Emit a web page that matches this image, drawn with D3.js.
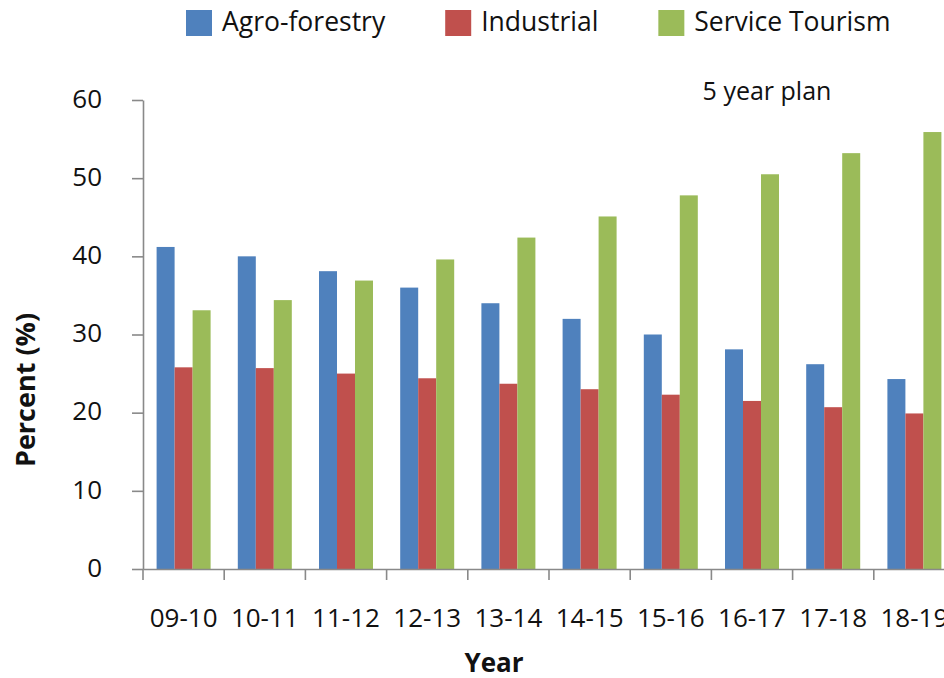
<!DOCTYPE html>
<html>
<head>
<meta charset="utf-8">
<script src="https://cdn.jsdelivr.net/npm/d3@7"></script>
<style>
	body { margin: 0; background: #fff; }
	svg { display: block; }
</style>
</head>
<body>
<div id="chart"></div>
<script>
const years = ['09-10', '10-11', '11-12', '12-13', '13-14', '14-15', '15-16', '16-17', '17-18', '18-19']
const seriesNames = ['Agro-forestry', 'Industrial', 'Service Tourism']
const agroForestry = [41.2, 40.0, 38.1, 36.0, 34.0, 32.0, 30.0, 28.1, 26.2, 24.3]
const industrial = [25.8, 25.7, 25.0, 24.4, 23.7, 23.0, 22.3, 21.5, 20.7, 19.9]
const serviceTourism = [33.1, 34.4, 36.9, 39.6, 42.4, 45.1, 47.8, 50.5, 53.2, 55.9]
const yTicks = [0, 10, 20, 30, 40, 50, 60]
const colors = ['#4f81bd', '#c0504d', '#9bbb59']

const width = 944
const height = 678
const font = '"Open Sans", "Noto Sans", sans-serif'

const values = [agroForestry, industrial, serviceTourism]
const rows = years.map((year, i) => ({
	year,
	bars: seriesNames.map((name, s) => ({ name, s, value: values[s][i] }))
}))

const svg = d3
	.select('#chart')
	.append('svg')
	.attr('width', width)
	.attr('height', height)

// the plot runs past the right edge, the last label is cut like in the original
const x = d3.scaleBand().domain(years).range([143, 955])
const xInner = d3.scaleBand().domain(seriesNames).range([13.6, 67.6])
const y = d3.scaleLinear().domain([0, 60]).range([569, 100])

// bars
svg
	.append('g')
	.selectAll('g')
	.data(rows)
	.join('g')
	.attr('transform', d => `translate(${x(d.year)},0)`)
	.selectAll('rect')
	.data(d => d.bars)
	.join('rect')
	.attr('x', d => xInner(d.name))
	.attr('width', xInner.bandwidth())
	.attr('y', d => y(d.value))
	.attr('height', d => y(0) - y(d.value))
	.attr('fill', d => colors[d.s])

// y axis
const yAxis = svg
	.append('g')
	.attr('transform', 'translate(143,0)')
	.call(d3.axisLeft(y).tickValues(yTicks).tickSize(11).tickSizeOuter(0).tickPadding(30))

yAxis.selectAll('path, line').attr('stroke', '#898989').attr('stroke-width', 1.6)
yAxis
	.selectAll('text')
	.attr('font-family', font)
	.attr('font-size', 26)
	.attr('fill', '#111')
	.attr('dy', '0.28em')

// x axis, ticks sit between the categories
const xAxis = svg
	.append('g')
	.attr('transform', 'translate(0,569)')
	.call(d3.axisBottom(x).tickSize(0).tickSizeOuter(0).tickPadding(39))

xAxis.select('.domain').attr('stroke', '#898989').attr('stroke-width', 1.6)
xAxis
	.selectAll('text')
	.attr('font-family', font)
	.attr('font-size', 26)
	.attr('fill', '#111')
	.attr('dy', '0.72em')

xAxis
	.selectAll('.boundary')
	.data(years.concat(['end']))
	.join('line')
	.classed('boundary', true)
	.attr('x1', d => (d === 'end' ? x.range()[1] : x(d)))
	.attr('x2', d => (d === 'end' ? x.range()[1] : x(d)))
	.attr('y1', 0)
	.attr('y2', 11)
	.attr('stroke', '#898989')
	.attr('stroke-width', 1.6)

// axis titles
svg
	.append('text')
	.attr('transform', 'translate(35,390) rotate(-90)')
	.attr('text-anchor', 'middle')
	.attr('font-family', font)
	.attr('font-weight', 'bold')
	.attr('font-size', 27)
	.attr('fill', '#111')
	.text('Percent (%)')

svg
	.append('text')
	.attr('x', 494)
	.attr('y', 672)
	.attr('text-anchor', 'middle')
	.attr('font-family', font)
	.attr('font-weight', 'bold')
	.attr('font-size', 26)
	.attr('fill', '#111')
	.text('Year')

svg
	.append('text')
	.attr('x', 767)
	.attr('y', 100)
	.attr('text-anchor', 'middle')
	.attr('font-family', font)
	.attr('font-size', 25)
	.attr('fill', '#111')
	.text('5 year plan')

// legend
const legend = svg.append('g').attr('transform', 'translate(186,10)')
let offset = 0
seriesNames.forEach((name, i) => {
	const item = legend.append('g').attr('transform', `translate(${offset},0)`)
	item
		.append('rect')
		.attr('width', 26)
		.attr('height', 26)
		.attr('fill', colors[i])
	const label = item
		.append('text')
		.attr('x', 36)
		.attr('y', 12)
		.attr('dy', '0.35em')
		.attr('font-family', font)
		.attr('font-size', 26.5)
		.attr('fill', '#111')
		.text(name)
	offset += 36 + label.node().getComputedTextLength() + 60
})
</script>
</body>
</html>
